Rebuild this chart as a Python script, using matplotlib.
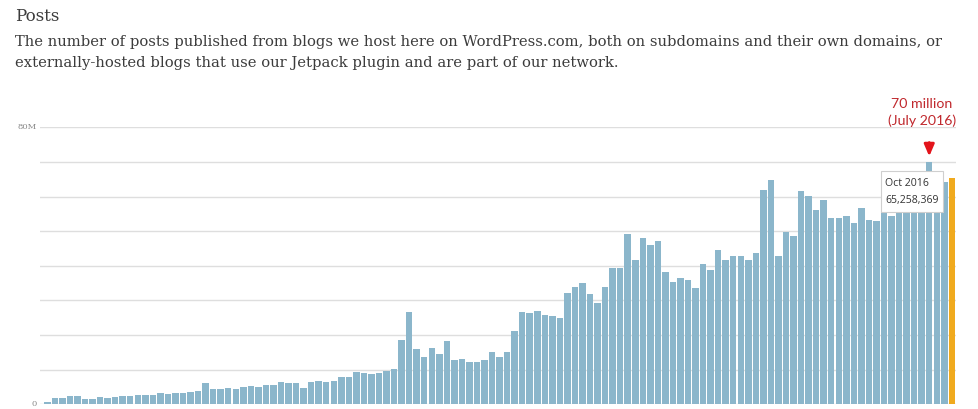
import numpy as np
import pandas as pd
import matplotlib
matplotlib.use("Agg")
import matplotlib.pyplot as plt
from matplotlib.patches import FancyBboxPatch

# ── monthly posts published (millions), Oct 2006 → Oct 2016 ────────────────
start_month = "2006-10"
posts_m = [
    0.7, 1.7, 1.7, 2.4, 2.4, 1.5, 1.6, 2.0, 1.8, 2.2,
    2.4, 2.5, 2.8, 2.8, 2.6, 3.3, 3.0, 3.4, 3.4, 3.6,
    3.8, 6.1, 4.4, 4.5, 4.8, 4.5, 5.0, 5.2, 4.9, 5.6,
    5.6, 6.4, 6.1, 6.1, 4.7, 6.4, 6.8, 6.5, 6.6, 8.0,
    7.9, 9.2, 9.0, 8.8, 8.9, 9.7, 10.2, 18.6, 26.7, 16.1,
    13.6, 16.3, 14.5, 18.2, 12.9, 13.1, 12.2, 12.2, 12.8, 15.1,
    13.8, 15.1, 21.3, 26.8, 26.4, 26.9, 25.8, 25.4, 25.0, 32.1,
    34.0, 35.1, 31.8, 29.3, 33.9, 39.3, 39.3, 49.3, 41.6, 47.9,
    45.9, 47.3, 38.1, 35.4, 36.4, 35.9, 33.7, 40.6, 38.7, 44.6,
    41.7, 42.7, 42.7, 41.8, 43.7, 61.9, 64.9, 42.8, 49.8, 48.7,
    61.7, 60.1, 56.1, 58.9, 53.8, 53.8, 54.3, 52.5, 56.6, 53.3,
    52.9, 55.5, 54.4, 58.0, 59.0, 61.0, 62.0, 70.0, 63.0, 64.3,
    65.258369,
]
months = pd.period_range(start_month, periods=len(posts_m), freq="M")
peak_month = "2016-07"
peak_label = "70 million\n(July 2016)"
y_ticks = [0, 80]
y_tick_labels = ["0", "80M"]

title = "Posts"
blurb = ("The number of posts published from blogs we host here on WordPress.com, both on subdomains and their own domains, or\n"
         "externally-hosted blogs that use our Jetpack plugin and are part of our network.")

BAR = "#8bb6cb"
HILITE = "#f0aa1e"
GRID = "#dedede"
INK = "#3c3c3c"
RED_TXT = "#c0282d"
RED_ARW = "#e3141b"

W, H = 979, 409
fig = plt.figure(figsize=(W / 100, H / 100), dpi=100)
fig.patch.set_facecolor("white")

# chart area in pixel terms
x0, x1 = 40, 956
y_zero, y_top = 404.3, 127.3
ax = fig.add_axes([x0 / W, 1 - y_zero / H, (x1 - x0) / W, (y_zero - y_top) / H])
ax.set_facecolor("white")

idx = np.arange(len(posts_m))
colors = [BAR] * len(posts_m)
colors[-1] = HILITE
ax.bar(idx, posts_m, width=0.86, color=colors, linewidth=0, zorder=2)

ax.set_xlim(-0.97, len(posts_m) - 0.45)
ax.set_ylim(0, 80)
ax.set_yticks(np.arange(0, 81, 10))
ax.grid(axis="y", color=GRID, linewidth=1.0, zorder=0)
ax.tick_params(left=False, bottom=False, labelleft=False, labelbottom=False)
for s in ax.spines.values():
    s.set_visible(False)

for v, lab in zip(y_ticks, y_tick_labels):
    ax.text(-1.4, v, lab, ha="right", va="center", fontsize=6,
            family="DejaVu Serif", color="#8a8a8a")

# header text
fig.text(15 / W, 1 - 21 / H, title, ha="left", va="baseline",
         fontsize=12, family="DejaVu Serif", color=INK)
fig.text(15 / W, 1 - 66.5 / H, blurb, ha="left", va="baseline",
         fontsize=10.6, family="DejaVu Serif", color=INK, linespacing=1.62)

# July 2016 call-out
pk = list(months.astype(str)).index(peak_month)
ax.annotate("", xy=(pk, posts_m[pk] + 0.8), xytext=(pk, posts_m[pk] + 6.4),
            arrowprops=dict(arrowstyle="-|>,head_width=0.3,head_length=0.7",
                            color=RED_ARW, lw=2.0), annotation_clip=False)
ax.text(pk - 1.0, posts_m[pk] + 10.0, peak_label, ha="center", va="bottom",
        fontsize=10.2, family="Lato", color=RED_TXT, linespacing=1.45,
        clip_on=False)

# hover tooltip for the latest month
last = len(posts_m) - 1
tip_x, tip_y = 880.5, 171.5
tip_w, tip_h = 62.5, 40.5
tip = FancyBboxPatch((tip_x / W, 1 - (tip_y + tip_h) / H), tip_w / W, tip_h / H,
                     boxstyle="square,pad=0", transform=fig.transFigure,
                     facecolor="white", edgecolor="#cfcfcf", linewidth=0.8,
                     zorder=5)
fig.patches.append(tip)
month_txt = months[last].strftime("%b %Y")
val_txt = f"{int(round(posts_m[last] * 1e6)):,}"
fig.text((tip_x + 5) / W, 1 - (tip_y + 15) / H, month_txt, ha="left",
         va="baseline", fontsize=7.6, family="Open Sans", color="#333333",
         zorder=6)
fig.text((tip_x + 5) / W, 1 - (tip_y + 32) / H, val_txt, ha="left",
         va="baseline", fontsize=7.6, family="Open Sans", color="#333333",
         zorder=6)

fig.savefig("out.png", dpi=100, facecolor="white")
